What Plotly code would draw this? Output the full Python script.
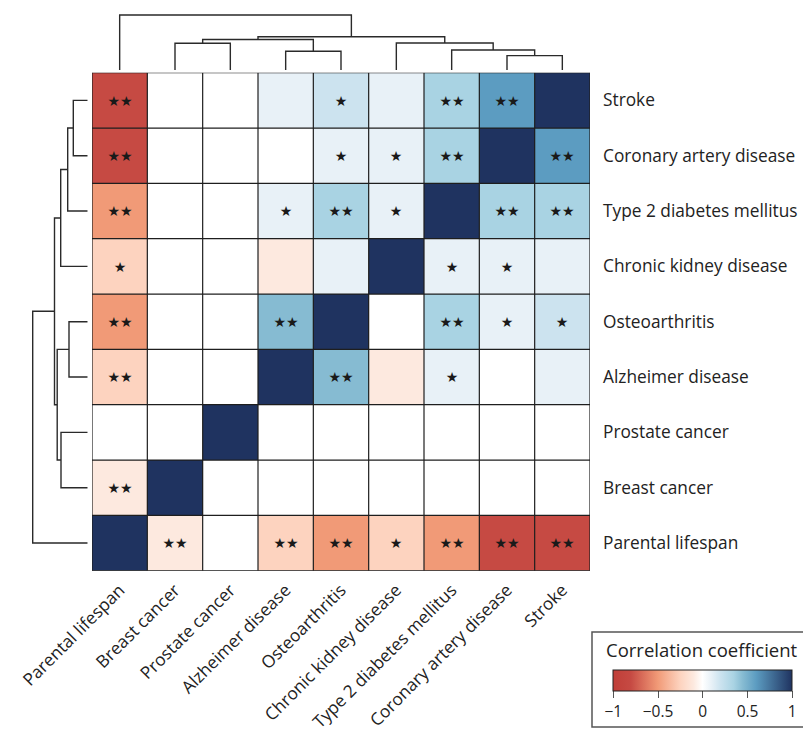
import plotly.graph_objects as go

# ---------------- data ----------------
columns = ["Parental lifespan", "Breast cancer", "Prostate cancer", "Alzheimer disease",
           "Osteoarthritis", "Chronic kidney disease", "Type 2 diabetes mellitus",
           "Coronary artery disease", "Stroke"]
rows = ["Stroke", "Coronary artery disease", "Type 2 diabetes mellitus",
        "Chronic kidney disease", "Osteoarthritis", "Alzheimer disease",
        "Prostate cancer", "Breast cancer", "Parental lifespan"]

corr = [
    [-0.8, 0, 0, 0.1, 0.2, 0.1, 0.35, 0.6, 1],
    [-0.8, 0, 0, 0, 0.1, 0.1, 0.35, 1, 0.6],
    [-0.5, 0, 0, 0.1, 0.35, 0.1, 1, 0.35, 0.35],
    [-0.25, 0, 0, -0.1, 0.1, 1, 0.1, 0.1, 0.1],
    [-0.5, 0, 0, 0.45, 1, 0, 0.35, 0.1, 0.2],
    [-0.25, 0, 0, 1, 0.45, -0.1, 0.1, 0, 0.1],
    [0, 0, 1, 0, 0, 0, 0, 0, 0],
    [-0.1, 1, 0, 0, 0, 0, 0, 0, 0],
    [1, -0.1, 0, -0.25, -0.5, -0.25, -0.5, -0.8, -0.8],
]

signif = [
    ["**", "", "", "", "*", "", "**", "**", ""],
    ["**", "", "", "", "*", "*", "**", "", "**"],
    ["**", "", "", "*", "**", "*", "", "**", "**"],
    ["*", "", "", "", "", "", "*", "*", ""],
    ["**", "", "", "**", "", "", "**", "*", "*"],
    ["**", "", "", "", "**", "", "*", "", ""],
    ["", "", "", "", "", "", "", "", ""],
    ["**", "", "", "", "", "", "", "", ""],
    ["", "**", "", "**", "**", "*", "**", "**", "**"],
]

# hierarchical clustering tree: (left, right, merge height)
tree = ("Parental lifespan",
        ((("Breast cancer", "Prostate cancer", 26.7),
          ("Alzheimer disease", "Osteoarthritis", 18.7), 30.5),
         ("Chronic kidney disease",
          ("Type 2 diabetes mellitus",
           ("Coronary artery disease", "Stroke", 14.4), 20.0), 27.0), 33.2),
        55.0)

cb_ticks = [-1, -0.5, 0, 0.5, 1]
cb_ticktext = ["\u22121", "\u22120.5", "0", "0.5", "1"]

# ---------------- helpers ----------------
def dendro_segments(node, order):
    xs, hs = [], []

    def rec(n):
        if isinstance(n, str):
            return order.index(n), 0.0
        l, r, h = n
        pl, hl = rec(l)
        pr, hr = rec(r)
        xs.extend([pl, pl, pr, pr, None])
        hs.extend([hl, h, h, hr, None])
        return (pl + pr) / 2.0, h

    rec(node)
    return xs, hs

# page body has an 8px margin, so the figure is offset by 8px
OFF = 8
W, H = 811 - OFF, 733 - OFF
def fx(px):
    return (px - OFF) / W
def fy(py):
    return (733 - py) / H

hm_l, hm_r, hm_t, hm_b = 92, 590, 72.7, 570.7

colorscale = [
    [0.0, "rgb(192,62,56)"],
    [0.1, "rgb(198,74,67)"],
    [0.25, "rgb(241,154,119)"],
    [0.375, "rgb(253,211,191)"],
    [0.45, "rgb(253,233,223)"],
    [0.5, "rgb(255,255,255)"],
    [0.55, "rgb(232,241,247)"],
    [0.6, "rgb(204,227,239)"],
    [0.675, "rgb(169,211,227)"],
    [0.725, "rgb(134,187,210)"],
    [0.8, "rgb(92,156,193)"],
    [1.0, "rgb(31,51,96)"],
]

star_text = [[s.replace("*", "\u2605") for s in r] for r in signif]

FONT = "Open Sans"

fig = go.Figure()

fig.add_trace(go.Heatmap(
    z=corr, x=list(range(len(columns))), y=list(range(len(rows))),
    zmin=-1, zmax=1, colorscale=colorscale,
    text=star_text, texttemplate="%{text}",
    textfont=dict(family="DejaVu Sans", size=14, color="#1a1a1a"),
    hoverinfo="skip",
    colorbar=dict(
        orientation="h", lenmode="pixels", len=179, thickness=21,
        x=fx((613.3 + 792.3) / 2), xanchor="center",
        y=fy(670), yanchor="top", ypad=0, xpad=0,
        outlinewidth=1, outlinecolor="#222",
        tickvals=cb_ticks, ticktext=cb_ticktext,
        ticks="outside", ticklen=7, tickwidth=1, tickcolor="#555",
        tickfont=dict(family=FONT, size=15.5, color="#222"),
    ),
    xaxis="x", yaxis="y",
))

# top dendrogram (columns)
tx, th = dendro_segments(tree, columns)
fig.add_trace(go.Scatter(x=tx, y=th, mode="lines",
                         line=dict(color="#2a2a2a", width=1.4),
                         hoverinfo="skip", showlegend=False,
                         xaxis="x2", yaxis="y2"))

# left dendrogram (rows)
ry, rh = dendro_segments(tree, rows)
fig.add_trace(go.Scatter(x=rh, y=ry, mode="lines",
                         line=dict(color="#2a2a2a", width=1.4),
                         hoverinfo="skip", showlegend=False,
                         xaxis="x3", yaxis="y3"))

# cell borders
shapes = []
n = len(columns)
for k in range(n + 1):
    shapes.append(dict(type="line", xref="x", yref="y", x0=k - 0.5, x1=k - 0.5,
                       y0=-0.5, y1=n - 0.5, line=dict(color="#1e1e1e", width=1.2),
                       layer="above"))
    shapes.append(dict(type="line", xref="x", yref="y", y0=k - 0.5, y1=k - 0.5,
                       x0=-0.5, x1=n - 0.5, line=dict(color="#1e1e1e", width=1.2),
                       layer="above"))
# legend box
shapes.append(dict(type="rect", xref="paper", yref="paper",
                   x0=fx(592), x1=fx(812), y0=fy(727), y1=fy(632),
                   line=dict(color="#555", width=1.5), fillcolor="rgba(0,0,0,0)"))

label_font = dict(family=FONT, size=17.3, color="#222")

fig.update_layout(
    width=W, height=H, autosize=False,
    margin=dict(l=0, r=0, t=0, b=0, pad=0, autoexpand=False),
    paper_bgcolor="white", plot_bgcolor="white",
    shapes=shapes,
    xaxis=dict(domain=[fx(hm_l), fx(hm_r)], range=[-0.5, n - 0.5],
               tickvals=list(range(n)), ticktext=columns, tickangle=-45,
               ticks="", showgrid=False, zeroline=False, showline=False,
               tickfont=label_font, ticklabelstandoff=5, anchor="y",
               automargin=False),
    yaxis=dict(domain=[fy(hm_b), fy(hm_t)], range=[n - 0.5, -0.5],
               tickvals=list(range(n)), ticktext=rows, side="right",
               ticks="", showgrid=False, zeroline=False, showline=False,
               tickfont=label_font, ticklabelstandoff=12, anchor="x",
               automargin=False),
    xaxis2=dict(domain=[fx(hm_l), fx(hm_r)], range=[-0.5, n - 0.5],
                visible=False, anchor="y2"),
    yaxis2=dict(domain=[fy(70), fy(12)], range=[0, 58], visible=False, anchor="x2"),
    xaxis3=dict(domain=[fx(30), fx(87.7)], range=[57.7, 0], visible=False, anchor="y3"),
    yaxis3=dict(domain=[fy(hm_b), fy(hm_t)], range=[n - 0.5, -0.5],
                visible=False, anchor="x3"),
    annotations=[dict(text="Correlation coefficient", xref="paper", yref="paper",
                      x=fx(702), y=fy(649), xanchor="center", yanchor="middle",
                      showarrow=False,
                      font=dict(family=FONT, size=18.5, color="#222"))],
)

fig.write_html("out.html")
